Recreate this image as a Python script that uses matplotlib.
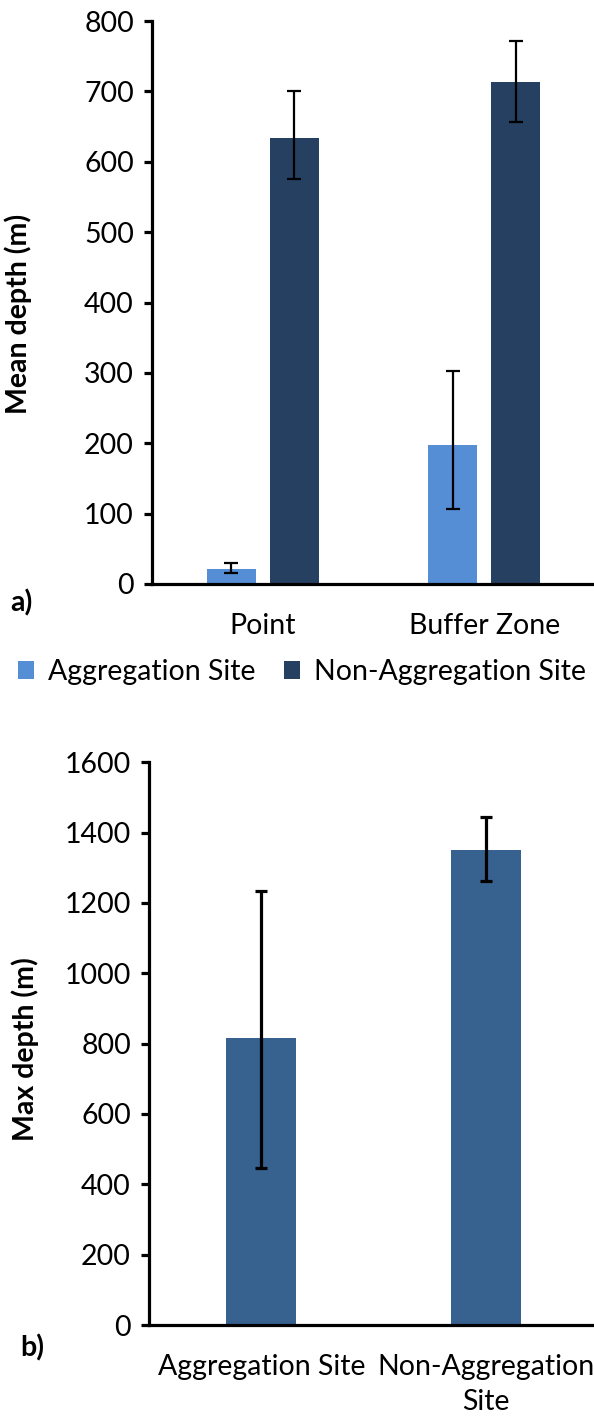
import matplotlib
matplotlib.use("Agg")
import matplotlib.pyplot as plt
import numpy as np
from matplotlib.patches import Patch

plt.rcParams["font.family"] = ["Lato", "DejaVu Sans"]

# Panel a: mean depth per zone
zones = ["Point", "Buffer Zone"]
agg_mean = [21, 197]
agg_err_low = [5, 91]
agg_err_high = [9, 105]
nonagg_mean = [634, 714]
nonagg_err_low = [59, 58]
nonagg_err_high = [67, 58]
series_names = ["Aggregation Site", "Non-Aggregation Site"]
yticks_a = [0, 100, 200, 300, 400, 500, 600, 700, 800]

# Panel b: max depth per site
sites = ["Aggregation Site", "Non-Aggregation\nSite"]
max_mean = [817, 1350]
max_err_low = [372, 88]
max_err_high = [418, 94]
yticks_b = [0, 200, 400, 600, 800, 1000, 1200, 1400, 1600]

light = "#558ED5"
dark = "#264061"
mid = "#37618F"

W, H = 594, 1417
fig = plt.figure(figsize=(W / 100, H / 100), dpi=100)

FS = 20.5


def style_axis(ax, ticks):
    for s in ("top", "right"):
        ax.spines[s].set_visible(False)
    for s in ("left", "bottom"):
        ax.spines[s].set_linewidth(2.3)
        ax.spines[s].set_color("black")
    ax.set_yticks(ticks)
    ax.tick_params(axis="y", length=6, width=2.3, labelsize=FS, pad=7)
    ax.tick_params(axis="x", length=0, labelsize=FS, pad=21)
    ax.spines["bottom"].set_zorder(5)


# ---- panel a ----
ax1 = fig.add_axes([152 / W, 1 - 584 / H, 443 / W, 563 / H])
x = np.arange(len(zones))
bw = 0.222
off = 0.1417
ax1.bar(x - off, agg_mean, bw, color=light, zorder=2)
ax1.bar(x + off, nonagg_mean, bw, color=dark, zorder=2)
ax1.errorbar(x - off, agg_mean, yerr=[agg_err_low, agg_err_high], fmt="none",
             ecolor="black", elinewidth=1.6, capsize=4.7, capthick=1.6, zorder=3)
ax1.errorbar(x + off, nonagg_mean, yerr=[nonagg_err_low, nonagg_err_high], fmt="none",
             ecolor="black", elinewidth=1.6, capsize=4.7, capthick=1.6, zorder=3)
ax1.set_xlim(-0.5, 1.5)
ax1.set_ylim(0, 800)
ax1.set_xticks(x)
ax1.set_xticklabels(zones)
style_axis(ax1, yticks_a)
ax1.set_ylabel("Mean depth (m)", fontsize=FS, fontweight="bold")
ax1.yaxis.set_label_coords(-0.272, 0.48)

handles = [Patch(facecolor=light), Patch(facecolor=dark)]
fig.legend(handles, series_names, loc="center", ncol=2,
           bbox_to_anchor=(302 / W, 1 - 672 / H), frameon=False, fontsize=FS,
           handlelength=0.55, handleheight=0.55, handletextpad=0.5,
           columnspacing=1.0, borderpad=0.1)

fig.text(10 / W, 1 - 603 / H, "a)", fontsize=FS, fontweight="bold",
         ha="left", va="center")

# ---- panel b ----
ax2 = fig.add_axes([149 / W, 1 - 1325 / H, 449 / W, 562.7 / H])
xb = np.arange(len(sites))
ax2.bar(xb, max_mean, 0.312, color=mid, zorder=2)
ax2.errorbar(xb, max_mean, yerr=[max_err_low, max_err_high], fmt="none",
             ecolor="black", elinewidth=2.3, capsize=4.6, capthick=2.3, zorder=3)
ax2.set_xlim(-0.5, 1.5)
ax2.set_ylim(0, 1600)
ax2.set_xticks(xb)
ax2.set_xticklabels(sites, linespacing=1.4)
style_axis(ax2, yticks_b)
ax2.set_ylabel("Max depth (m)", fontsize=FS, fontweight="bold")
ax2.yaxis.set_label_coords(-0.245, 0.49)

fig.text(20 / W, 1 - 1348 / H, "b)", fontsize=FS, fontweight="bold",
         ha="left", va="center")

fig.savefig("out.png", dpi=100)
